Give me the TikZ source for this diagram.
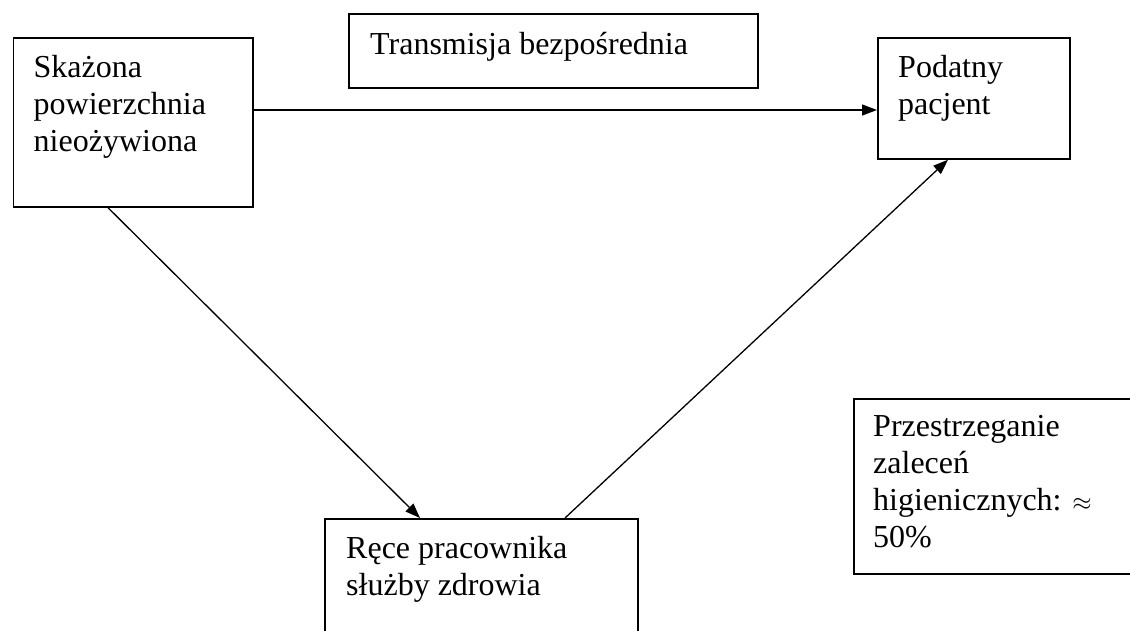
\documentclass[tikz,border=0pt]{standalone}
\usepackage{fontspec}
\setmainfont{Liberation Serif}
\usetikzlibrary{arrows.meta}
\newcommand{\boxlines}[1]{\parbox[t]{400pt}{\raggedright #1}}
\begin{document}
\begin{tikzpicture}[x=1pt,y=-1pt,
  boxframe/.style={draw=black,line width=1.7pt,rectangle,inner sep=0pt,anchor=north west},
  boxtext/.style={anchor=base west,inner sep=0pt,font=\fontsize{32}{37}\selectfont},
  conn/.style={draw=black,line width=1.3pt,-{Triangle[length=15pt,width=11pt]}}]
\useasboundingbox (0,0) rectangle (1130,631);
% boxes
\node[boxframe,minimum width=239.5pt,minimum height=169pt] (b1) at (12.5,37) {};
\node[boxframe,minimum width=409pt,minimum height=74pt] (b2) at (348,13) {};
\node[boxframe,minimum width=192pt,minimum height=121pt] (b3) at (877,37) {};
\node[boxframe,minimum width=313pt,minimum height=140pt] (b4) at (324,518) {};
\node[boxframe,minimum width=285pt,minimum height=175pt] (b5) at (853,398) {};
% texts
\node[boxtext] (t1) at ([xshift=21pt,yshift=-41pt]b1.north west) {\boxlines{Skażona\\powierzchnia\\nieożywiona}};
\node[boxtext] (t2) at ([xshift=22pt,yshift=-42pt]b2.north west) {\boxlines{Transmisja bezpośrednia}};
\node[boxtext] (t3) at ([xshift=21pt,yshift=-41pt]b3.north west) {\boxlines{Podatny\\pacjent}};
\node[boxtext] (t4) at ([xshift=22pt,yshift=-40pt]b4.north west) {\boxlines{Ręce pracownika\\służby zdrowia}};
\node[boxtext] (t5) at ([xshift=20pt,yshift=-38pt]b5.north west) {\boxlines{Przestrzeganie\\zaleceń\\higienicznych: $\approx$\\50\%}};
% connectors
\coordinate (p1) at (b1.east |- 0,110);
\coordinate (p2) at (b3.west |- 0,110);
\draw[conn] (p1) -- (p2);
\coordinate (p3) at (b1.south -| 108,0);
\coordinate (p4) at (b4.north -| 420,0);
\draw[conn] (p3) -- (p4);
\coordinate (p5) at (b4.north -| 565,0);
\coordinate (p6) at (b3.south -| 948,0);
\draw[conn] (p5) -- (p6);
\end{tikzpicture}
\end{document}
